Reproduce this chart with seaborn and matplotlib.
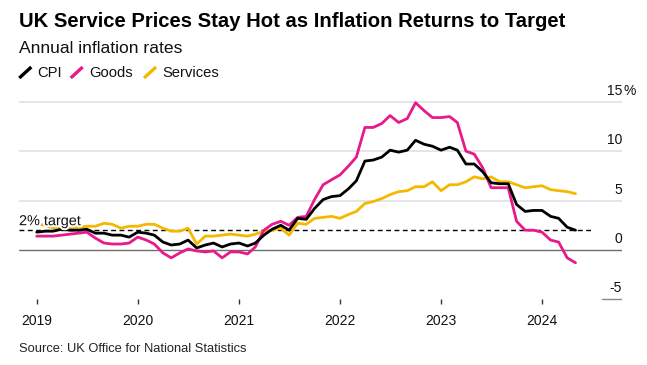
import pandas as pd
import matplotlib
matplotlib.use("Agg")
import matplotlib.pyplot as plt
import matplotlib.dates as mdates
import matplotlib.patheffects as pe
from matplotlib.lines import Line2D
from matplotlib.transforms import offset_copy
import seaborn as sns

# monthly annual rates, Jan 2019 - May 2024
months = pd.date_range("2019-01-01", periods=65, freq="MS")

cpi = [1.8, 1.9, 1.9, 2.1, 2.0, 2.0, 2.1, 1.7, 1.7, 1.5, 1.5, 1.3,
       1.8, 1.7, 1.5, 0.8, 0.5, 0.6, 1.0, 0.2, 0.5, 0.7, 0.3, 0.6,
       0.7, 0.4, 0.7, 1.5, 2.1, 2.5, 2.0, 3.2, 3.1, 4.2, 5.1, 5.4,
       5.5, 6.2, 7.0, 9.0, 9.1, 9.4, 10.1, 9.9, 10.1, 11.1, 10.7, 10.5,
       10.1, 10.4, 10.1, 8.7, 8.7, 7.9, 6.8, 6.7, 6.7, 4.6, 3.9, 4.0,
       4.0, 3.4, 3.2, 2.3, 2.0]

goods = [1.4, 1.4, 1.4, 1.5, 1.6, 1.7, 1.8, 1.2, 0.7, 0.6, 0.6, 0.7,
         1.3, 1.0, 0.6, -0.3, -0.8, -0.3, 0.1, -0.1, -0.2, -0.1, -0.8, -0.2,
         -0.2, -0.4, 0.3, 2.0, 2.6, 2.9, 2.5, 3.3, 3.4, 5.1, 6.6, 7.1,
         7.6, 8.5, 9.4, 12.4, 12.4, 12.8, 13.6, 12.9, 13.3, 14.9, 14.1, 13.4,
         13.4, 13.5, 12.9, 10.0, 9.7, 8.3, 6.3, 6.3, 6.3, 2.9, 2.0, 2.0,
         1.8, 1.0, 0.8, -0.8, -1.3]

services = [2.6, 2.5, 2.2, 2.2, 2.2, 2.3, 2.4, 2.4, 2.7, 2.6, 2.2, 2.4,
            2.4, 2.6, 2.6, 2.2, 1.9, 1.9, 2.2, 0.6, 1.4, 1.4, 1.5, 1.6,
            1.5, 1.4, 1.6, 1.9, 2.0, 2.2, 1.5, 2.7, 2.6, 3.2, 3.3, 3.4,
            3.2, 3.6, 3.9, 4.7, 4.9, 5.2, 5.6, 5.9, 6.0, 6.4, 6.4, 6.9,
            6.0, 6.6, 6.6, 6.9, 7.4, 7.2, 7.4, 6.9, 6.9, 6.6, 6.3, 6.4,
            6.5, 6.1, 6.0, 5.9, 5.7]

series_names = ["CPI", "Goods", "Services"]
colors = {"CPI": "#000000", "Goods": "#e8198b", "Services": "#f5b800"}
y_ticks = [-5, 0, 5, 10, 15]
target = 2

df = pd.DataFrame({"date": months, "CPI": cpi, "Goods": goods, "Services": services})
df = df.melt(id_vars="date", var_name="series", value_name="rate")

sns.set_theme(style="white")
plt.rcParams["font.family"] = ["Liberation Sans", "DejaVu Sans"]

W, H = 647, 365
fig = plt.figure(figsize=(W / 100, H / 100), dpi=100)
ax = fig.add_axes([19 / W, 1 - 304 / H, (622 - 19) / W, (304 - 90) / H])

# grid
for y in [5, 10, 15]:
    ax.axhline(y, color="#e3e3e3", lw=1.3, zorder=0)
ax.axhline(0, color="#6e6e6e", lw=1.0, zorder=1)
ax.axhline(-5, xmin=(602 - 19) / 603, xmax=1, color="#8a8a8a", lw=1.0, zorder=1)

x_left = pd.Timestamp("2018-10-29")
x_right = pd.Timestamp("2024-10-16")
ax.hlines(target, x_left, pd.Timestamp("2024-06-30"), colors="black", lw=1.0,
          linestyles=(0, (3.5, 2.5)), zorder=2)

sns.lineplot(data=df, x="date", y="rate", hue="series",
             hue_order=["Services", "Goods", "CPI"], palette=colors,
             linewidth=2.0, legend=False, ax=ax, zorder=3)

ax.set_xlim(x_left, x_right)
ax.set_ylim(-5.47, 16.19)
ax.set_xlabel("")
ax.set_ylabel("")
ax.set_yticks([])
for s in ax.spines.values():
    s.set_visible(False)

ax.xaxis.set_major_locator(mdates.YearLocator())
ax.xaxis.set_major_formatter(mdates.DateFormatter("%Y"))
ax.tick_params(axis="x", direction="in", length=3.5, width=1, color="#333333",
               labelsize=10, pad=7, labelcolor="#111111", bottom=True)

# right-hand value labels sitting above their gridlines
ytrans = offset_copy(ax.get_yaxis_transform(), fig=fig, x=0, y=7, units="dots")
for v in y_ticks:
    ax.text(1.0, v, str(v), transform=ytrans, ha="right", va="baseline",
            fontsize=10, color="#111111")
pct_trans = offset_copy(ax.get_yaxis_transform(), fig=fig, x=1, y=7, units="dots")
ax.text(1.0, 15, "%", transform=pct_trans, ha="left", va="baseline",
        fontsize=10, color="#111111")

ttrans = offset_copy(ax.get_yaxis_transform(), fig=fig, x=0, y=5, units="dots")
ax.text(0, target, "2% target", transform=ttrans, ha="left", va="baseline",
        fontsize=10.4, color="#111111", zorder=6,
        path_effects=[pe.withStroke(linewidth=3, foreground="white")])

# header
fig.text(19 / W, 1 - 27.3 / H, "UK Service Prices Stay Hot as Inflation Returns to Target",
         fontsize=14.6, fontweight="bold", va="baseline", color="black")
fig.text(19 / W, 1 - 53.3 / H, "Annual inflation rates", fontsize=12.6,
         va="baseline", color="#111111")

# legend with slash markers
slash_x = {"CPI": 19.3, "Goods": 70.7, "Services": 144.0}
label_x = {"CPI": 37.3, "Goods": 89.3, "Services": 162.3}
for name in series_names:
    x0 = slash_x[name]
    fig.add_artist(Line2D([x0 / W, (x0 + 12) / W], [1 - 78 / H, 1 - 67 / H],
                          color=colors[name], lw=2.4, solid_capstyle="butt"))
    fig.text(label_x[name] / W, 1 - 77.3 / H, name, fontsize=10.6,
             va="baseline", color="#111111")

fig.text(19 / W, 1 - 352.5 / H, "Source: UK Office for National Statistics",
         fontsize=9.3, va="baseline", color="#222222")

fig.savefig("out.png", dpi=100)
